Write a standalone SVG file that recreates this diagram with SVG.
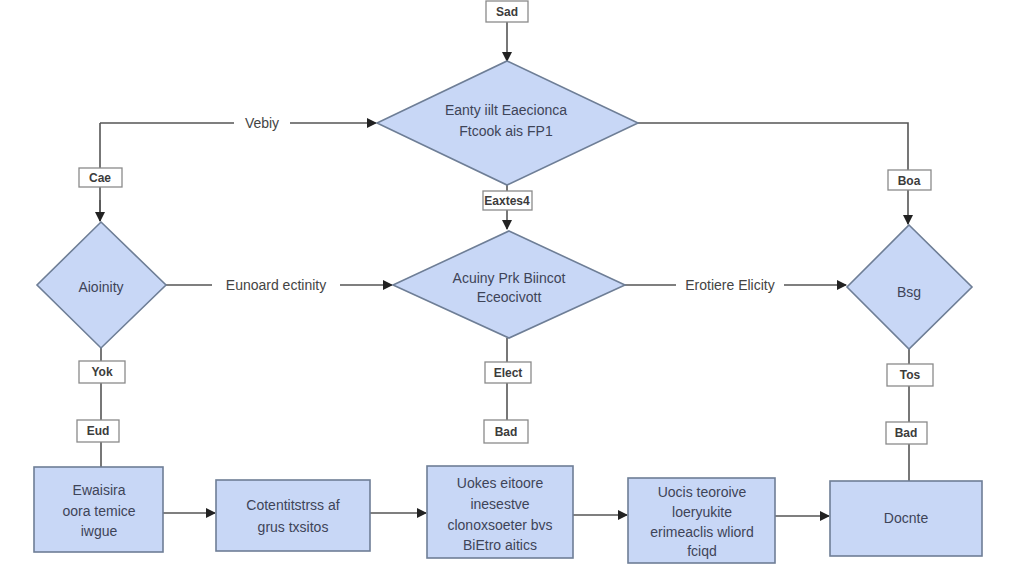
<svg xmlns="http://www.w3.org/2000/svg" width="1024" height="570" viewBox="0 0 1024 570">
<defs>
<marker id="arr" markerWidth="10" markerHeight="10" refX="9" refY="5" orient="auto" markerUnits="userSpaceOnUse">
<path d="M0,0 L10,5 L0,10 z" fill="#222"/>
</marker>
<style>
.shape{fill:#c8d7f6;stroke:#6e7e96;stroke-width:1.6}
.lbl{fill:#fff;stroke:#8a8a8a;stroke-width:1.3}
.line{fill:none;stroke:#555;stroke-width:1.6}
.t{font-family:"Liberation Sans",Arial,sans-serif;font-size:14px;fill:#3e4458;text-anchor:middle}
.tl{font-family:"Liberation Sans",Arial,sans-serif;font-size:12px;font-weight:bold;fill:#3c3c3c;text-anchor:middle}
.tc{font-family:"Liberation Sans",Arial,sans-serif;font-size:14px;fill:#444;text-anchor:middle}
.bg{fill:#fff}
</style>
</defs>
<rect width="1024" height="570" fill="#fff"/>
<g id="connectors">
<path class="line" d="M507,22 L507,61" marker-end="url(#arr)"/>
<path class="line" d="M100,123 L376,123" marker-end="url(#arr)"/>
<path class="line" d="M100,123 L100,221"/>
<path class="line" d="M100,200 L100,221" marker-end="url(#arr)"/>
<path class="line" d="M638,123 L908,123 L908,224" marker-end="url(#arr)"/>
<path class="line" d="M507,185 L507,229" marker-end="url(#arr)"/>
<path class="line" d="M166,285 L392,285" marker-end="url(#arr)"/>
<path class="line" d="M625,285 L846,285" marker-end="url(#arr)"/>
<path class="line" d="M101,348 L101,467"/>
<path class="line" d="M507,338 L507,420"/>
<path class="line" d="M909,349 L909,481"/>
<path class="line" d="M163,513 L215,513" marker-end="url(#arr)"/>
<path class="line" d="M370,513 L426,513" marker-end="url(#arr)"/>
<path class="line" d="M573,515 L627,515" marker-end="url(#arr)"/>
<path class="line" d="M775,516 L829,516" marker-end="url(#arr)"/>
<rect class="bg" x="234" y="113" width="56" height="20"/>
<text class="tc" x="262" y="128">Vebiy</text>
<rect class="bg" x="212" y="275" width="128" height="20"/>
<text class="tc" x="276" y="290">Eunoard ectinity</text>
<rect class="bg" x="676" y="275" width="108" height="20"/>
<text class="tc" x="730" y="290">Erotiere Elicity</text>
<g id="lbl-sad"><rect class="lbl" x="486" y="1" width="42" height="21"/><text class="tl" x="507" y="16">Sad</text></g>
<g id="lbl-cae"><rect class="lbl" x="79" y="168" width="43" height="19"/><text class="tl" x="100" y="182">Cae</text></g>
<g id="lbl-boa"><rect class="lbl" x="888" y="170" width="43" height="20"/><text class="tl" x="909" y="185">Boa</text></g>
<g id="lbl-eaxtes"><rect class="lbl" x="483" y="191" width="49" height="19"/><text class="tl" x="507" y="205">Eaxtes4</text></g>
<g id="lbl-yok"><rect class="lbl" x="79" y="361" width="46" height="22"/><text class="tl" x="102" y="376">Yok</text></g>
<g id="lbl-eud"><rect class="lbl" x="77" y="420" width="42" height="22"/><text class="tl" x="98" y="435">Eud</text></g>
<g id="lbl-elect"><rect class="lbl" x="485" y="362" width="46" height="21"/><text class="tl" x="508" y="377">Elect</text></g>
<g id="lbl-bad"><rect class="lbl" x="484" y="420" width="44" height="23"/><text class="tl" x="506" y="436">Bad</text></g>
<g id="lbl-tos"><rect class="lbl" x="887" y="364" width="46" height="22"/><text class="tl" x="910" y="379">Tos</text></g>
<g id="lbl-bad2"><rect class="lbl" x="886" y="422" width="41" height="22"/><text class="tl" x="906" y="437">Bad</text></g>
</g>
<g id="node-top-decision">
<polygon class="shape" points="507,61 638,123 507,185 377,123"/>
<text class="t" x="506" y="115">Eanty iilt Eaecionca</text>
<text class="t" x="506" y="136">Ftcook ais FP1</text>
</g>
<g id="node-left-decision">
<polygon class="shape" points="101,222 166,285 101,348 37,285"/>
<text class="t" x="101" y="292">Aioinity</text>
</g>
<g id="node-mid-decision">
<polygon class="shape" points="509,231 625,285 509,338 393,285"/>
<text class="t" x="509" y="283">Acuiny Prk Biincot</text>
<text class="t" x="509" y="302">Eceocivott</text>
</g>
<g id="node-right-decision">
<polygon class="shape" points="909,225 972,287 909,349 847,287"/>
<text class="t" x="909" y="297">Bsg</text>
</g>
<g id="node-box1">
<rect class="shape" x="34" y="467" width="129" height="85"/>
<text class="t" x="99" y="495">Ewaisira</text>
<text class="t" x="99" y="516">oora temice</text>
<text class="t" x="99" y="536">iwgue</text>
</g>
<g id="node-box2">
<rect class="shape" x="216" y="480" width="154" height="71"/>
<text class="t" x="293" y="510">Cotentitstrss af</text>
<text class="t" x="293" y="532">grus txsitos</text>
</g>
<g id="node-box3">
<rect class="shape" x="427" y="466" width="146" height="92"/>
<text class="t" x="500" y="488">Uokes eitoore</text>
<text class="t" x="500" y="509">inesestve</text>
<text class="t" x="500" y="530">clonoxsoeter bvs</text>
<text class="t" x="500" y="550">BiEtro aitics</text>
</g>
<g id="node-box4">
<rect class="shape" x="628" y="478" width="147" height="85"/>
<text class="t" x="702" y="497">Uocis teoroive</text>
<text class="t" x="702" y="517">loeryukite</text>
<text class="t" x="702" y="537">erimeaclis wliord</text>
<text class="t" x="702" y="556">fciqd</text>
</g>
<g id="node-box5">
<rect class="shape" x="830" y="481" width="152" height="75"/>
<text class="t" x="906" y="523">Docnte</text>
</g>
</svg>
